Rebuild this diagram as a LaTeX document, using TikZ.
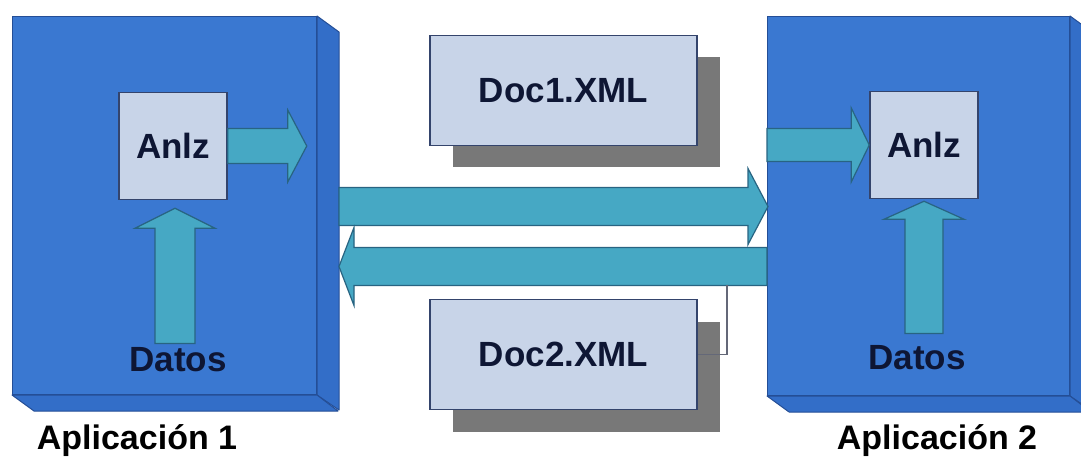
\documentclass[tikz,border=0pt]{standalone}
\usepackage{fontspec}
\setmainfont{Liberation Sans}
\usetikzlibrary{calc,shadows}

\definecolor{facefront}{RGB}{58,120,209}
\definecolor{faceside}{RGB}{51,110,200}
\definecolor{faceedge}{RGB}{36,78,150}
\definecolor{flowfill}{RGB}{70,168,196}
\definecolor{flowedge}{RGB}{40,100,130}
\definecolor{anlzfill}{RGB}{200,212,232}
\definecolor{anlzedge}{RGB}{52,68,108}
\definecolor{shadowgray}{RGB}{120,120,120}
\definecolor{labelink}{RGB}{14,22,52}
\definecolor{linkgray}{RGB}{100,104,120}

% horizontal block arrow: tail, tip, shaft half width, head half width, head length
\newcommand\blockh[5]{%
  \draw[flow] let \p1=(#1), \p2=(#2), \p3=({\x2-sign(\x2-\x1)*(#5)},\y1) in
    (\x1,\y1+#3) -- (\x3,\y1+#3) -- (\x3,\y1+#4) -- (\x2,\y1) --
    (\x3,\y1-#4) -- (\x3,\y1-#3) -- (\x1,\y1-#3) -- cycle;}
% vertical block arrow: tail, tip, shaft half width, head half width, head length
\newcommand\blockv[5]{%
  \draw[flow] let \p1=(#1), \p2=(#2), \p3=(\x1,{\y2-sign(\y2-\y1)*(#5)}) in
    (\x1-#3,\y1) -- (\x1-#3,\y3) -- (\x1-#4,\y3) -- (\x1,\y2) --
    (\x1+#4,\y3) -- (\x1+#3,\y3) -- (\x1+#3,\y1) -- cycle;}

\tikzset{
  bigfont/.style={font=\bfseries\fontsize{35}{40}\selectfont},
  face/.style={draw=faceedge, fill=facefront, line width=1pt, anchor=north west, inner sep=0pt},
  sideface/.style={draw=faceedge, fill=faceside, line width=1pt, line join=round},
  anlzbox/.style={draw=anlzedge, fill=anlzfill, line width=1.5pt, minimum width=108pt,
    minimum height=107pt, inner sep=0pt, bigfont, text=labelink},
  docbox/.style={draw=anlzedge, fill=anlzfill, line width=1.5pt, minimum width=267pt,
    minimum height=110pt, inner sep=0pt, bigfont, text=labelink,
    drop shadow={shadow xshift=23pt, shadow yshift=-22pt, fill=shadowgray, opacity=1, draw=none}},
  flow/.style={draw=flowedge, fill=flowfill, line width=1.2pt, line join=miter},
  datalabel/.style={bigfont, text=labelink, inner sep=0pt},
  apptitle/.style={font=\bfseries\fontsize{34}{38}\selectfont, text=black, inner sep=0pt, anchor=base},
  link/.style={draw=linkgray, line width=1.5pt}
}

\begin{document}
\begin{tikzpicture}[x=1pt, y=-1pt]
\useasboundingbox (0,0) rectangle (1081,457);
\fill[white] (0,0) rectangle (1081,457);

% application blocks (front face plus right and bottom faces)
\node[face, minimum width=304pt, minimum height=378pt] (app1) at (12,16) {};
\draw[sideface] (app1.north east) -- ++(22,16) -- ++(0,378) -- (app1.south east) -- cycle;
\draw[sideface] (app1.south west) -- ++(22,16) -- ++(304,0) -- (app1.south east) -- cycle;

\node[face, minimum width=302pt, minimum height=379pt] (app2) at (767,16) {};
\draw[sideface] (app2.north east) -- ++(22,16) -- ++(0,379) -- (app2.south east) -- cycle;
\draw[sideface] (app2.south west) -- ++(22,16) -- ++(302,0) -- (app2.south east) -- cycle;

% analyser boxes
\node[anlzbox] (anlz1) at (173,146) {Anlz};
\node[anlzbox] (anlz2) at (924,145) {Anlz};

% data labels
\node[datalabel] (datos1) at (178,360) {Datos};
\node[datalabel] (datos2) at (917,358) {Datos};

% application titles
\node[apptitle] (title1) at (137,449) {Aplicación 1};
\node[apptitle] (title2) at (937,449) {Aplicación 2};

% XML documents
\node[docbox] (doc1) at (563.5,90.5) {Doc1.XML};
\node[docbox] (doc2) at (563.5,354.5) {Doc2.XML};

% arrow end points
\coordinate (out1) at ($(anlz1.east)+(79,0)$);
\coordinate (in2) at (app2.west |- anlz2.west);
\coordinate (up1) at ($(anlz1.south)+(0,8)$);
\coordinate (up2) at ($(anlz2.south)+(0,2)$);
\coordinate (datos1top) at ($(datos1.north)+(-3,-4)$);
\coordinate (datos2top) at ($(datos2.north)+(7,-12)$);
\coordinate (fwdtail) at ($(app1.east)+(22,1)$);
\coordinate (fwdtip) at ($(app2.west)+(1,0.5)$);
\coordinate (backtail) at ($(app2.west)+(0,60.5)$);
\coordinate (backtip) at ($(app1.east)+(22,61)$);
\coordinate (linkstart) at (727,285);

% block arrows
\blockh{anlz1.east}{out1}{17.5pt}{36pt}{19pt}
\blockh{in2}{anlz2.west}{16.5pt}{37pt}{18pt}
\blockv{datos1top}{up1}{20pt}{40pt}{20pt}
\blockv{datos2top}{up2}{19pt}{40pt}{18pt}
\blockh{fwdtail}{fwdtip}{19pt}{38pt}{20pt}
\blockh{backtail}{backtip}{19pt}{39pt}{15pt}

% thin link from the return flow to the second document
\draw[link] (linkstart) |- (doc2.east);
\end{tikzpicture}
\end{document}
